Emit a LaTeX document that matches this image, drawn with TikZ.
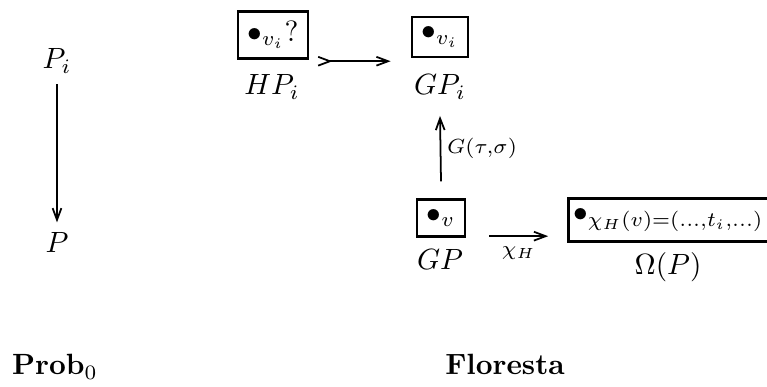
\documentclass[tikz,border=0pt]{standalone}
\usepackage{amsmath, amssymb}
\usetikzlibrary{arrows.meta, calc}

\begin{document}
\begin{tikzpicture}[>={Straight Barb[length=4pt,width=3pt]}, line width=0.6pt,
    cell/.style={draw, rectangle, line width=0.8pt}]
    \useasboundingbox (0,0) rectangle (9.204,4.644);

    \node (pi) at (0.684,3.816) [anchor=base] {$P_i$};
    \node (p) at (0.684,1.608) [anchor=base] {$P$};

    \node (hpbox) at (3.276,4.224) [cell] {$\bullet_{v_i}?$};
    \node (hp) at (3.264,3.504) [anchor=base] {$HP_i$};

    \node (gpibox) at (5.28,4.2) [cell] {$\bullet_{v_i}$};
    \node (gpi) at (5.28,3.504) [anchor=base] {$GP_i$};

    \node (gpbox) at (5.292,2.028) [cell] {$\bullet_v$};
    \node (gp) at (5.28,1.404) [anchor=base] {$GP$};

    \node (obox) at (8.022,2.004) [cell, inner xsep=1.7pt, minimum height=13.6pt] {$\bullet_{\chi_H(v)=(\ldots,t_i,\ldots)}$};
    \node (omega) at (8.016,1.35) [anchor=base] {$\Omega(P)$};

    \node (prob) at (0.66,0.144) [anchor=base] {$\mathbf{Prob}_0$};
    \node (floresta) at (6.06,0.144) [anchor=base] {\textbf{Floresta}};

    \draw [->] (pi) -- (p);
    \draw [>->] ($(hpbox.south east)+(2.7pt,-0.5pt)$) -- ($(hpbox.south east -| gpibox.west)+(-6.8pt,-0.5pt)$);
    \draw [->] ([yshift=5.8pt]gpbox.north) -- ([yshift=-2pt]gpi.south) node [midway, right, inner sep=2pt] {$\scriptstyle G(\tau,\sigma)$};
    \draw [->] ($(gpbox.south east)+(7.8pt,0.5pt)$) -- ($(gpbox.south east -| obox.west)+(-6.5pt,0.5pt)$) node [midway, below] {$\scriptstyle\chi_H$};
\end{tikzpicture}
\end{document}
